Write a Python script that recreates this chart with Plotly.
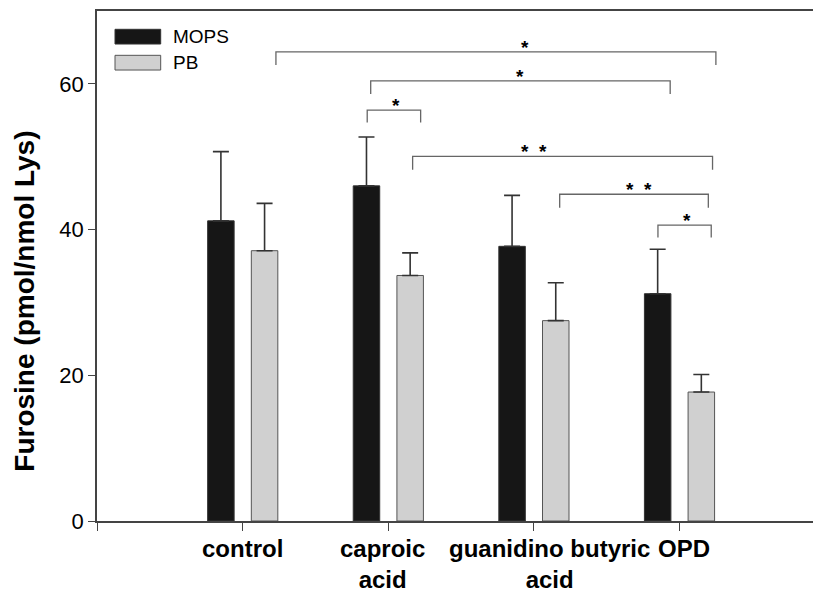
import plotly.graph_objects as go

# ---- data ----
categories = ["control", "caproic acid", "guanidino butyric acid", "OPD"]
tick_labels = ["control", "caproic<br>acid", "guanidino butyric<br>acid", "OPD"]
mops = [41.2, 46.0, 37.7, 31.2]
mops_err = [9.5, 6.7, 7.0, 6.1]
pb = [37.1, 33.7, 27.5, 17.7]
pb_err = [6.5, 3.1, 5.2, 2.4]

# significance brackets: (x_start, x_end, y_line, y_leg_end, label, label_x)
brackets = [
    (1.229, 4.251, 64.4, 62.6, "*", 2.942),
    (1.880, 3.937, 60.4, 58.6, "*", 2.905),
    (1.856, 2.223, 56.4, 54.7, "*", 2.054),
    (2.168, 4.228, 50.05, 48.2, "*  *", 3.003),
    (3.178, 4.199, 44.85, 43.0, "*  *", 3.721),
    (3.853, 4.219, 40.6, 38.9, "*", 4.050),
]

# style: horizontal pixel nudge of each category label
label_nudge_px = [0, -6, 16, 5]

pos = list(range(1, len(categories) + 1))
BAR_W = 0.182
FONT = "Liberation Sans, Arial, sans-serif"

fig = go.Figure()
fig.add_trace(go.Bar(
    x=pos, y=mops, width=BAR_W, offset=-0.240, name="MOPS",
    marker=dict(color="#161616", line=dict(color="#333333", width=1)),
    error_y=dict(type="data", array=mops_err, arrayminus=[0] * 4, symmetric=False,
                 color="#333333", thickness=1.6, width=8),
    showlegend=False,
))
fig.add_trace(go.Bar(
    x=pos, y=pb, width=BAR_W, offset=0.060, name="PB",
    marker=dict(color="#d0d0d0", line=dict(color="#555555", width=1)),
    error_y=dict(type="data", array=pb_err, arrayminus=[0] * 4, symmetric=False,
                 color="#333333", thickness=1.6, width=8),
    showlegend=False,
))

shapes = []
annotations = []
for x0, x1, yl, yb, lab, lx in brackets:
    shapes.append(dict(type="path", xref="x", yref="y",
                       path=f"M {x0},{yb} L {x0},{yl} L {x1},{yl} L {x1},{yb}",
                       line=dict(color="#666666", width=1.3)))
    annotations.append(dict(x=lx, y=yl, xref="x", yref="y", text=f"<b>{lab}</b>",
                            showarrow=False, yanchor="bottom", yshift=-8,
                            font=dict(family=FONT, size=19, color="black")))

# category labels
for p, t, nudge in zip(pos, tick_labels, label_nudge_px):
    annotations.append(dict(x=p, y=0, xref="x", yref="paper", text=f"<b>{t}</b>",
                            showarrow=False, xanchor="center", yanchor="top",
                            xshift=nudge, yshift=-12, align="center",
                            font=dict(family=FONT, size=24, color="black")))

# custom legend (paper coords)
PW, PH, L, T = 716.0, 509.7, 97.0, 11.0
def px(xp):
    return (xp - L) / PW
def py(yp):
    return (T + PH - yp) / PH
leg = [("MOPS", "#161616", "#333333", 29.3, 44.0), ("PB", "#d0d0d0", "#555555", 55.3, 70.0)]
for name, fc, lc, y0, y1 in leg:
    shapes.append(dict(type="rect", xref="paper", yref="paper",
                       x0=px(115), x1=px(160.7), y0=py(y1), y1=py(y0),
                       fillcolor=fc, line=dict(color=lc, width=1)))
    annotations.append(dict(x=px(171), y=py((y0 + y1) / 2), xref="paper", yref="paper",
                            text=name, showarrow=False, xanchor="left", yanchor="middle",
                            font=dict(family=FONT, size=19, color="black")))

annotations.append(dict(x=0, y=30.1, xref="paper", yref="y", xshift=-72,
                        text="<b>Furosine (pmol/nmol Lys)</b>", textangle=-90,
                        showarrow=False, xanchor="center", yanchor="middle",
                        font=dict(family=FONT, size=28, color="black")))

fig.update_layout(
    width=813, height=595,
    margin=dict(l=97, r=0, t=11, b=74),
    paper_bgcolor="white", plot_bgcolor="white",
    shapes=shapes, annotations=annotations,
    xaxis=dict(range=[0, 4.918], tickvals=[0] + pos, ticktext=[""] * (len(pos) + 1),
               showline=True, mirror=True, linecolor="#444444", linewidth=1.5,
               ticks="outside", ticklen=8, tickwidth=1.3, tickcolor="#444444",
               showgrid=False, zeroline=False),
    yaxis=dict(range=[0, 70], tickvals=[0, 20, 40, 60],
               showline=True, linecolor="#444444", linewidth=1.5,
               ticks="outside", ticklen=7, tickwidth=1.3, tickcolor="#444444",
               showgrid=False, zeroline=False,
               tickfont=dict(family=FONT, size=22, color="black")),
    font=dict(family=FONT),
)

fig.write_html("out.html")
